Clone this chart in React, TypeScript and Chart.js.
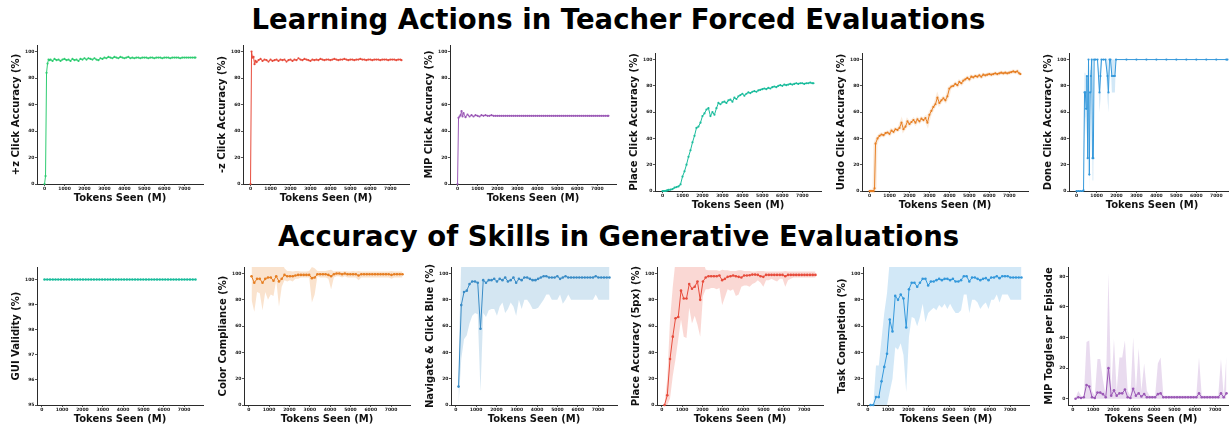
import React, { useEffect, useRef } from "react";
import { Chart, registerables } from "chart.js";

Chart.register(...registerables);

const FAMILY = "'DejaVu Sans', sans-serif";

// ---------- Titles ----------
const TITLE_TOP = "Learning Actions in Teacher Forced Evaluations";
const TITLE_BOTTOM = "Accuracy of Skills in Generative Evaluations";
const X_LABEL = "Tokens Seen (M)";

// ---------- Tick labels ----------
const X_TICKS = [0, 1000, 2000, 3000, 4000, 5000, 6000, 7000];
const PCT_TICKS = [0, 20, 40, 60, 80, 100];
const GUI_TICKS = [95, 96, 97, 98, 99, 100];
const TOGGLE_TICKS = [0, 20, 40, 60, 80];

// ---------- Teacher-forced evaluations (top row) ----------
const TF_TOKENS = [
  0, 50, 100, 150, 200, 250, 300,
  400, 500, 600, 700, 800, 900, 1000, 1100, 1200, 1300,
  1400, 1500, 1600, 1700, 1800, 1900, 2000, 2100, 2200, 2300,
  2400, 2500, 2600, 2700, 2800, 2900, 3000, 3100, 3200, 3300,
  3400, 3500, 3600, 3700, 3800, 3900, 4000, 4100, 4200, 4300,
  4400, 4500, 4600, 4700, 4800, 4900, 5000, 5100, 5200, 5300,
  5400, 5500, 5600, 5700, 5800, 5900, 6000, 6100, 6200, 6300,
  6400, 6500, 6600, 6700, 6800, 6900, 7000, 7100, 7200, 7300,
  7400, 7500, 7560,
];

const PLUS_Z_ACC = [
  0, 6, 84, 91, 94, 93.5, 94,
  93, 94.5, 93.5, 94, 93, 94, 94.5, 93.5, 94, 93,
  94.5, 93.5, 94, 93, 94.5, 94, 95, 94, 95, 94.5,
  94, 95, 94, 93.5, 95, 94.5, 95.5, 95, 96, 95.5,
  95, 96, 95.5, 95, 96, 95.5, 95, 95.5, 96, 95,
  95.5, 95, 95.5, 95.5, 95, 95.5, 95.5, 95.5, 95, 95.5,
  95.5, 95, 95.5, 95.5, 95.5, 95, 95.5, 95.5, 95.5, 95,
  95.5, 95.5, 95.5, 95.5, 95, 95.5, 95.5, 95.5, 95.5, 95.5,
  95.5, 95.5, 95.5,
];

const MINUS_Z_ACC = [
  0, 100, 95.5, 96, 90.5, 93, 92,
  93.5, 94.5, 93, 94, 93.5, 92.5, 94, 93, 93.5, 94,
  93, 94, 93.5, 94, 92.5, 93.5, 94, 93, 94, 93.5,
  95, 94, 93.5, 94.5, 94, 93.5, 93, 94, 93.5, 94,
  93.5, 94.5, 94, 93.5, 94, 94, 93.5, 94, 94.5, 94,
  93.5, 94, 94, 94.5, 94, 93.5, 94, 94, 93.5, 94,
  94, 94.5, 94, 94, 93.5, 94, 94, 93.5, 94, 94,
  94, 93.5, 94, 94, 94, 93.5, 94, 94, 94, 93.5,
  94, 94, 93.5,
];

const MIP_CLICK_ACC = [
  0, 50, 51, 52, 55, 51, 53.5,
  50.5, 52.5, 51, 52, 51, 52, 51.5, 51, 52, 51.5,
  52, 51.5, 51.5, 52, 51.5, 51.5, 51.5, 51.5, 51.5, 51.5,
  51.5, 51.5, 51.5, 51.5, 51.5, 51.5, 51.5, 51.5, 51.5, 51.5,
  51.5, 51.5, 51.5, 51.5, 51.5, 51.5, 51.5, 51.5, 51.5, 51.5,
  51.5, 51.5, 51.5, 51.5, 51.5, 51.5, 51.5, 51.5, 51.5, 51.5,
  51.5, 51.5, 51.5, 51.5, 51.5, 51.5, 51.5, 51.5, 51.5, 51.5,
  51.5, 51.5, 51.5, 51.5, 51.5, 51.5, 51.5, 51.5, 51.5, 51.5,
  51.5, 51.5, 51.5,
];

const PLACE_CLICK_ACC = [
  0, 0, 0, 0, 0.3, 0.5, 0.8,
  1, 1.5, 2.5, 3, 3.5, 5, 11, 15, 20, 26,
  31, 37, 42, 48, 49, 52, 57, 59, 62, 63,
  57, 60, 58, 63, 67, 66, 67.5, 68, 67, 69,
  69.5, 68, 71, 70, 72, 73, 74, 72.5, 74, 75,
  74.5, 75.5, 76, 75.5, 76.5, 77, 77.5, 78, 77.5, 78.5,
  78, 79, 79.5, 79, 80, 80.5, 80, 81, 80.5, 81,
  81.5, 81, 81.5, 82, 81.5, 82, 82, 81.5, 82, 82,
  82.5, 82, 82,
];

const UNDO_CLICK_ACC = [
  0, 0, 0, 0, 0, 2, 36,
  40, 42, 43, 42.5, 44, 44.5, 43.5, 46, 45, 47,
  46.5, 48, 52, 47, 49, 53, 51, 52.5, 54, 52,
  54.5, 53, 55, 54, 55.5, 52, 58, 61, 64, 66,
  71, 67, 69, 70.5, 69, 72, 78, 79.5, 80, 81.5,
  80.5, 83, 82, 84, 85, 86, 85, 87, 86.5, 87.5,
  87, 88, 87, 88.5, 88, 88.5, 89, 88.5, 89, 89.5,
  89, 89.5, 90, 89.5, 90, 89.5, 90, 90.5, 91, 90.5,
  91, 89.5, 89,
];

const DONE_TOKENS = [
  0, 100, 200, 300, 350,
  400, 440, 480, 520, 560, 600, 640, 680, 720, 760, 800, 840, 880,
  950, 1050, 1150, 1200, 1250, 1350, 1450, 1550, 1600, 1650, 1700, 1770, 1850, 1920, 1980,
  2500, 3000, 3500, 4000, 4500, 5000, 5500, 6000, 6500, 7000, 7500,
  7560,
];
const DONE_CLICK_ACC = [
  0, 0, 0, 0, 0.5,
  75, 75, 62.5, 87.5, 25, 100, 12.5, 75, 87.5, 100, 25, 25, 100,
  100, 100, 75, 87.5, 100, 100, 100, 87.5, 75, 100, 100, 87.5, 87.5, 87.5, 100,
  100, 100, 100, 100, 100, 100, 100, 100, 100, 100, 100,
  100,
];
const DONE_CLICK_LO = [
  0, 0, 0, 0, 0,
  60, 55, 40, 70, 8, 100, 0, 55, 70, 100, 8, 8, 100,
  100, 100, 60, 70, 100, 100, 100, 70, 60, 100, 100, 75, 75, 75, 100,
  100, 100, 100, 100, 100, 100, 100, 100, 100, 100, 100,
  100,
];
const DONE_CLICK_HI = [
  0, 0, 0, 0, 1,
  90, 90, 85, 100, 45, 100, 30, 92, 100, 100, 45, 45, 100,
  100, 100, 90, 100, 100, 100, 100, 100, 90, 100, 100, 100, 100, 100, 100,
  100, 100, 100, 100, 100, 100, 100, 100, 100, 100, 100,
  100,
];

// ---------- Generative evaluations (bottom row) ----------
const GEN_TOKENS = [
  135, 270, 405, 540, 675, 810, 945, 1080, 1215, 1350,
  1485, 1620, 1755, 1890, 2025, 2160, 2295, 2430, 2565, 2700,
  2835, 2970, 3105, 3240, 3375, 3510, 3645, 3780, 3915, 4050,
  4185, 4320, 4455, 4590, 4725, 4860, 4995, 5130, 5265, 5400,
  5535, 5670, 5805, 5940, 6075, 6210, 6345, 6480, 6615, 6750,
  6885, 7020, 7155, 7290, 7425, 7560,
];

const GUI_VALIDITY = [
  100, 100, 100, 100, 100, 100, 100, 100, 100, 100,
  100, 100, 100, 100, 100, 100, 100, 100, 100, 100,
  100, 100, 100, 100, 100, 100, 100, 100, 100, 100,
  100, 100, 100, 100, 100, 100, 100, 100, 100, 100,
  100, 100, 100, 100, 100, 100, 100, 100, 100, 100,
  100, 100, 100, 100, 100, 100,
];

const COLOR_COMPLIANCE = [
  98, 93, 96, 96, 93, 96, 97, 97, 94.5, 98,
  94, 96, 99, 98, 98, 98, 98.5, 99, 99, 99,
  99, 99, 96.5, 97, 99.5, 99.5, 99.5, 99.5, 99, 98,
  99.5, 100, 100, 99.5, 100, 99.5, 99.5, 99.5, 99.5, 98.5,
  99.5, 99.5, 99.5, 99.5, 99.5, 99.5, 99.5, 99.5, 99.5, 99.5,
  99.5, 99, 99.5, 99.5, 99.5, 99.5,
];
const COLOR_LO = [
  80, 71, 86, 85, 72, 86, 80, 84, 83, 95,
  75, 90, 95, 94, 95, 94, 96, 96, 97, 97,
  97, 97, 78, 84, 98, 97, 97, 97, 96, 88,
  97, 98, 98, 97, 98, 97, 97, 97, 97, 95,
  97, 97, 97, 97, 97, 97, 97, 97, 97, 97,
  97, 96, 97, 97, 97, 97,
];
const COLOR_HI = [
  110, 110, 110, 110, 110, 110, 110, 110, 110, 110,
  110, 110, 104, 102, 102, 101.5, 102, 102, 101.5, 101.5,
  101.5, 102, 105, 104, 102, 102, 102, 102, 102.5, 103,
  101.5, 102, 102, 101.5, 102, 101.5, 101.5, 102, 101.5, 102,
  101.5, 101.5, 101.5, 101.5, 101.5, 101.5, 101.5, 101.5, 101.5, 101.5,
  101.5, 102, 101.5, 101.5, 101.5, 101.5,
];

const NAV_CLICK_BLUE = [
  14, 76, 86, 87, 92, 94, 94, 93, 58, 95,
  93, 95, 95, 96, 94, 96, 95, 97, 94, 95,
  97, 93, 96, 95, 97, 97, 96, 95, 95, 96,
  97, 98, 98, 97, 97, 97, 98, 96, 97, 98,
  97, 97, 97, 97, 97, 97, 97, 97, 97, 97,
  98, 97, 97, 97, 97, 97,
];
const NAV_LO = [
  0, 35, 50, 53, 62, 68, 70, 69, 10, 70,
  67, 72, 73, 73, 68, 75, 78, 70, 73, 78,
  75, 68, 80, 73, 80, 80, 77, 73, 73, 74,
  77, 80, 84, 84, 80, 80, 80, 84, 77, 80,
  84, 80, 80, 80, 80, 80, 80, 80, 80, 80,
  84, 80, 80, 80, 80, 80,
];
const NAV_HI = [
  35, 110, 110, 110, 110, 110, 110, 110, 110, 110,
  110, 110, 110, 110, 110, 110, 110, 110, 110, 110,
  110, 110, 110, 110, 110, 110, 110, 110, 110, 110,
  110, 110, 110, 110, 110, 110, 110, 110, 110, 110,
  110, 110, 110, 110, 110, 110, 110, 110, 110, 110,
  110, 110, 110, 110, 110, 110,
];

const PLACE_ACC_5PX = [
  0, 7.4, 35, 52, 66, 67, 87, 81, 81, 92,
  88.5, 90, 94, 80, 94, 97, 98, 98, 98, 98,
  98.5, 95, 96, 97.5, 98, 98.5, 98, 97.5, 97, 98.5,
  98.5, 98.7, 99.2, 99.2, 99, 98, 97.5, 99, 99, 99,
  99, 99, 99, 99, 98, 99, 99, 99, 99, 99,
  99, 99, 99, 99, 99, 99,
];
const PLACE_LO = [
  0, 0, 5, 22, 35, 50, 65, 52, 51, 74,
  62, 68, 61, 52, 83, 88, 88, 89, 89, 88,
  89, 76, 82, 88, 87, 88, 83, 84, 90, 91,
  91, 90, 92, 93, 95, 93, 90, 95, 95, 96,
  95, 94, 96, 96, 90, 95, 96, 97, 97, 97,
  97, 97, 97, 97, 97, 97,
];
const PLACE_HI = [
  2, 20, 65, 90, 110, 110, 110, 110, 110, 110,
  110, 110, 110, 110, 110, 103, 102.5, 102.5, 102.5, 102.5,
  102, 103, 102.5, 102.5, 102, 102, 102, 102.5, 102.5, 102,
  102, 102, 101.5, 101.5, 102, 102, 102, 101.5, 101.5, 101.5,
  101.5, 101.5, 101.5, 101.5, 102, 101.5, 101.5, 101.5, 101.5, 101.5,
  101.5, 101.5, 101.5, 101.5, 101.5, 101.5,
];

const TASK_COMPLETION = [
  0, 0, 6, 6, 18, 29, 39, 65, 56, 83,
  80, 84, 81, 59, 88, 93, 93, 90, 93, 96,
  96, 91, 94, 94, 95, 96, 95, 96, 96, 95,
  96, 94, 94, 95, 98, 98, 94, 97, 97, 96,
  95, 96, 96.5, 95, 97, 97, 98, 96.5, 98, 98,
  98, 97, 97, 97, 97, 97,
];
const TASK_LO = [
  0, 0, 0, 0, 0, 0, 0, 10, 20, 44,
  42, 47, 38, 10, 52, 67, 66, 60, 67, 77,
  63, 70, 72, 74, 72, 76, 74, 77, 73, 77,
  73, 70, 70, 72, 84, 84, 70, 80, 80, 78,
  73, 76, 78, 73, 80, 80, 84, 78, 84, 84,
  84, 80, 80, 80, 80, 80,
];
const TASK_HI = [
  0, 0, 30, 30, 50, 70, 85, 110, 110, 110,
  110, 110, 110, 110, 110, 110, 110, 110, 110, 110,
  110, 110, 110, 110, 110, 110, 110, 110, 110, 110,
  110, 110, 110, 110, 110, 110, 110, 110, 110, 110,
  110, 110, 110, 110, 110, 110, 110, 110, 110, 110,
  110, 110, 110, 110, 110, 110,
];

const MIP_TOGGLES = [
  0, 1, 0.5, 1, 9, 8, 1, 0.5, 4, 4,
  3, 1, 20, 2, 5.5, 2, 3.5, 3.5, 6, 1,
  0.5, 6.5, 2, 3.5, 1.5, 3, 1, 1, 1, 1,
  3, 3.5, 1, 1, 1, 1, 1, 1, 1, 1,
  1, 1, 1, 1, 1, 3.5, 1, 1, 1, 1,
  1, 1, 1, 3.5, 1, 3.5,
];
const MIP_TOGGLES_LO = [
  0, 0, 0, 0, 0, 0, 0, 0, 0, 0,
  0, 0, 0, 0, 0, 0, 0, 0, 0, 0,
  0, 0, 0, 0, 0, 0, 0, 0, 0, 0,
  0, 0, 0, 0, 0, 0, 0, 0, 0, 0,
  0, 0, 0, 0, 0, 0, 0, 0, 0, 0,
  0, 0, 0, 0, 0, 0,
];
const MIP_TOGGLES_HI = [
  0.5, 5, 2, 1, 37, 38, 5, 2, 26, 26,
  12, 2, 82, 5, 39, 5, 27, 27, 38, 5,
  2, 40, 5, 33, 5, 23, 5, 2, 2, 2,
  23, 27, 2, 2, 2, 2, 2, 2, 2, 2,
  2, 2, 2, 2, 2, 27, 2, 2, 2, 2,
  2, 2, 2, 26, 2, 28,
];

// ---------- Panel definitions ----------
type PanelSpec = {
  id: string;
  rect: [number, number, number, number]; // plot area l, t, r, b
  canvasTop: number;
  yLabel: string;
  color: string;
  x: number[];
  y: number[];
  lo?: number[];
  hi?: number[];
  glow?: boolean;
  yMin: number;
  yMax: number;
  yTicks: number[];
  xMin: number;
  xMax: number;
  labelOffset?: number;
  pointRadius?: number;
};

const TF_X: [number, number] = [-378, 7938];
const GEN_X: [number, number] = [-236, 7931];

const PANELS: PanelSpec[] = [
  { id: "p1", rect: [37, 45, 203, 184], canvasTop: 37, yLabel: "+z Click Accuracy (%)", color: "#2ecc71", x: TF_TOKENS, y: PLUS_Z_ACC, yMin: 0, yMax: 105, yTicks: PCT_TICKS, xMin: TF_X[0], xMax: TF_X[1] },
  { id: "p2", rect: [243, 45, 409, 184], canvasTop: 37, yLabel: "-z Click Accuracy (%)", color: "#e74c3c", x: TF_TOKENS, y: MINUS_Z_ACC, yMin: 0, yMax: 105, yTicks: PCT_TICKS, xMin: TF_X[0], xMax: TF_X[1] },
  { id: "p3", rect: [450, 45, 616, 184], canvasTop: 37, yLabel: "MIP Click Accuracy (%)", color: "#9b59b6", x: TF_TOKENS, y: MIP_CLICK_ACC, yMin: 0, yMax: 105, yTicks: PCT_TICKS, xMin: TF_X[0], xMax: TF_X[1] },
  { id: "p4", rect: [655, 53, 821, 191], canvasTop: 45, yLabel: "Place Click Accuracy (%)", color: "#1abc9c", x: TF_TOKENS, y: PLACE_CLICK_ACC, yMin: 0, yMax: 105, yTicks: PCT_TICKS, xMin: TF_X[0], xMax: TF_X[1] },
  { id: "p5", rect: [862, 53, 1028, 191], canvasTop: 45, yLabel: "Undo Click Accuracy (%)", color: "#e67e22", x: TF_TOKENS, y: UNDO_CLICK_ACC, glow: true, yMin: 0, yMax: 105, yTicks: PCT_TICKS, xMin: TF_X[0], xMax: TF_X[1] },
  { id: "p6", rect: [1069, 53, 1235, 191], canvasTop: 45, yLabel: "Done Click Accuracy (%)", color: "#3498db", x: DONE_TOKENS, y: DONE_CLICK_ACC, lo: DONE_CLICK_LO, hi: DONE_CLICK_HI, yMin: 0, yMax: 105, yTicks: PCT_TICKS, xMin: TF_X[0], xMax: TF_X[1] },
  { id: "q1", rect: [37, 267, 203, 405], canvasTop: 263, yLabel: "GUI Validity (%)", color: "#1abc9c", x: GEN_TOKENS, y: GUI_VALIDITY, yMin: 95, yMax: 100.5, yTicks: GUI_TICKS, xMin: GEN_X[0], xMax: GEN_X[1], pointRadius: 1.3 },
  { id: "q2", rect: [244, 267, 410, 405], canvasTop: 263, yLabel: "Color Compliance (%)", color: "#e67e22", x: GEN_TOKENS, y: COLOR_COMPLIANCE, lo: COLOR_LO, hi: COLOR_HI, yMin: 0, yMax: 105, yTicks: PCT_TICKS, xMin: GEN_X[0], xMax: GEN_X[1], pointRadius: 1.3 },
  { id: "q3", rect: [451, 267, 617, 405], canvasTop: 263, yLabel: "Navigate & Click Blue (%)", color: "#3a8cc6", x: GEN_TOKENS, y: NAV_CLICK_BLUE, lo: NAV_LO, hi: NAV_HI, yMin: 0, yMax: 105, yTicks: PCT_TICKS, xMin: GEN_X[0], xMax: GEN_X[1], pointRadius: 1.3 },
  { id: "q4", rect: [657, 267, 823, 405], canvasTop: 263, yLabel: "Place Accuracy (5px) (%)", color: "#e74c3c", x: GEN_TOKENS, y: PLACE_ACC_5PX, lo: PLACE_LO, hi: PLACE_HI, yMin: 0, yMax: 105, yTicks: PCT_TICKS, xMin: GEN_X[0], xMax: GEN_X[1], pointRadius: 1.3 },
  { id: "q5", rect: [863, 267, 1029, 405], canvasTop: 263, yLabel: "Task Completion (%)", color: "#3498db", x: GEN_TOKENS, y: TASK_COMPLETION, lo: TASK_LO, hi: TASK_HI, yMin: 0, yMax: 105, yTicks: PCT_TICKS, xMin: GEN_X[0], xMax: GEN_X[1], pointRadius: 1.3 },
  { id: "q6", rect: [1068, 267, 1234, 405], canvasTop: 263, yLabel: "MIP Toggles per Episode", color: "#9b59b6", x: GEN_TOKENS, y: MIP_TOGGLES, lo: MIP_TOGGLES_LO, hi: MIP_TOGGLES_HI, yMin: -4.1, yMax: 86.1, yTicks: TOGGLE_TICKS, xMin: GEN_X[0], xMax: GEN_X[1], labelOffset: 18.5, pointRadius: 1.3 },
];

function rgba(hex: string, a: number) {
  const n = parseInt(hex.slice(1), 16);
  return `rgba(${(n >> 16) & 255},${(n >> 8) & 255},${n & 255},${a})`;
}

const Y_W = 36;
const X_H = 24;
const PAD_R = 2;
const AXIS_COLOR = "#2b2b2b";

function Panel({ spec }: { spec: PanelSpec }) {
  const ref = useRef<HTMLCanvasElement | null>(null);
  const [l, t, r, b] = spec.rect;
  const cLeft = l - Y_W;
  const cTop = spec.canvasTop;
  const cW = r - l + Y_W + PAD_R;
  const cH = b + X_H - cTop;

  useEffect(() => {
    if (!ref.current) return;
    const pts = (ys: number[]) => {
      const out: { x: number; y: number }[] = [];
      for (let i = 0; i < spec.x.length; i++) {
        if (ys[i] !== undefined) out.push({ x: spec.x[i], y: ys[i] });
      }
      return out;
    };
    const datasets: any[] = [
      {
        data: pts(spec.y),
        borderColor: spec.color,
        backgroundColor: spec.color,
        borderWidth: 1,
        pointRadius: spec.pointRadius ?? 1.1,
        pointBorderWidth: 0,
        pointHoverRadius: 0,
        fill: false,
        clip: { left: 4, right: 4, top: 2, bottom: 4 },
      },
    ];
    if (spec.glow) {
      datasets.push({
        data: pts(spec.y),
        borderColor: rgba(spec.color, 0.15),
        borderWidth: 4,
        pointRadius: 0,
        fill: false,
        clip: { left: 4, right: 4, top: 2, bottom: 4 },
      });
    }
    if (spec.lo && spec.hi) {
      datasets.push({
        data: pts(spec.hi),
        borderWidth: 0,
        borderColor: "rgba(0,0,0,0)",
        pointRadius: 0,
        backgroundColor: rgba(spec.color, 0.22),
        fill: "+1",
      });
      datasets.push({
        data: pts(spec.lo),
        borderWidth: 0,
        borderColor: "rgba(0,0,0,0)",
        pointRadius: 0,
        fill: false,
      });
    }

    const tickFont = { family: FAMILY, size: 4.5, weight: "bold" as const };
    const titleFont = { family: FAMILY, size: 10, weight: "bold" as const };
    const off = spec.labelOffset ?? 21;

    const chart = new Chart(ref.current, {
      type: "line",
      data: { datasets },
      options: {
        responsive: false,
        animation: false,
        devicePixelRatio: 1,
        events: [],
        layout: { padding: { top: t - cTop, right: PAD_R, left: 0, bottom: 0 } },
        elements: { line: { tension: 0 } },
        plugins: { legend: { display: false }, tooltip: { enabled: false } },
        scales: {
          x: {
            type: "linear",
            min: spec.xMin,
            max: spec.xMax,
            afterFit: (s: any) => {
              s.height = X_H;
            },
            afterBuildTicks: (s: any) => {
              s.ticks = X_TICKS.map((v) => ({ value: v }));
            },
            ticks: {
              font: tickFont,
              color: "#222",
              padding: 0.5,
              maxRotation: 0,
              autoSkip: false,
              callback: (v: any) => String(v),
            },
            grid: {
              display: true,
              drawOnChartArea: false,
              drawTicks: true,
              tickLength: 2,
              tickColor: AXIS_COLOR,
              tickWidth: 0.8,
            },
            border: { display: true, color: AXIS_COLOR, width: 1 },
            title: {
              display: true,
              text: X_LABEL,
              font: titleFont,
              color: "#111",
              padding: { top: 0, bottom: 4 },
            },
          },
          y: {
            type: "linear",
            min: spec.yMin,
            max: spec.yMax,
            afterFit: (s: any) => {
              s.width = Y_W;
            },
            afterBuildTicks: (s: any) => {
              s.ticks = spec.yTicks.map((v) => ({ value: v }));
            },
            ticks: {
              font: tickFont,
              color: "#222",
              padding: 0.5,
              autoSkip: false,
              callback: (v: any) => String(v),
            },
            grid: {
              display: true,
              drawOnChartArea: false,
              drawTicks: true,
              tickLength: 2,
              tickColor: AXIS_COLOR,
              tickWidth: 0.8,
            },
            border: { display: true, color: AXIS_COLOR, width: 1 },
            title: {
              display: true,
              text: spec.yLabel,
              font: titleFont,
              color: "#111",
              padding: { top: Y_W - off - 6, bottom: 0 },
            },
          },
        },
      } as any,
    });
    return () => chart.destroy();
  }, []);

  return (
    <canvas
      ref={ref}
      width={cW}
      height={cH}
      style={{ position: "absolute", left: cLeft, top: cTop, width: cW, height: cH }}
    />
  );
}

const titleStyle = (top: number): React.CSSProperties => ({
  position: "absolute",
  left: 4,
  top,
  width: 1229,
  textAlign: "center",
  fontFamily: FAMILY,
  fontWeight: "bold",
  fontSize: 27.5,
  lineHeight: "28px",
  color: "#000",
  whiteSpace: "nowrap",
});

export default function App() {
  return (
    <div
      style={{
        position: "fixed",
        left: 0,
        top: 0,
        width: 1229,
        height: 429,
        overflow: "hidden",
        background: "#fff",
      }}
    >
      <div style={titleStyle(5)}>{TITLE_TOP}</div>
      <div style={titleStyle(222)}>{TITLE_BOTTOM}</div>
      {PANELS.map((p) => (
        <Panel key={p.id} spec={p} />
      ))}
    </div>
  );
}
